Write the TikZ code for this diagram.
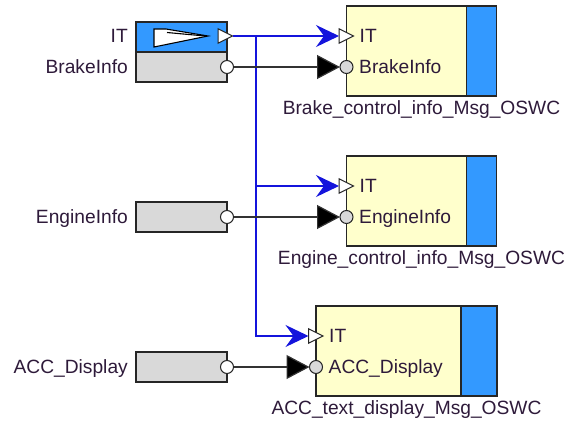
\documentclass[tikz,border=0pt]{standalone}
\usepackage{fontspec}
\setmainfont{Liberation Sans}
\usetikzlibrary{arrows.meta,positioning,calc,shapes.geometric}
\definecolor{swcfill}{HTML}{FFFFCC}
\definecolor{itblue}{HTML}{3399FF}
\definecolor{portgray}{HTML}{D9D9D9}
\definecolor{wireblue}{HTML}{1414DC}
\definecolor{txt}{HTML}{2E1A3A}
\tikzset{src/.style={draw=black!85,fill=portgray,anchor=north west,minimum width=91pt,minimum height=30pt,inner sep=0pt,outer sep=0pt,line width=1.3pt},
swc/.style={draw=black!85,fill=swcfill,anchor=north west,minimum height=90pt,inner sep=0pt,outer sep=0pt,line width=1.3pt},
stripe/.style={draw=black!85,fill=itblue,anchor=north east,minimum height=90pt,inner sep=0pt,outer sep=0pt,line width=1.3pt},
tport/.style={isosceles triangle,isosceles triangle stretches,minimum width=14.5pt,minimum height=14.5pt,inner sep=0pt,outer sep=0pt,draw=black!85,fill=white,line width=1pt,anchor=west},
cport/.style={circle,minimum size=13pt,inner sep=0pt,outer sep=0pt,draw=black!85,line width=1pt},
lab/.style={font=\fontsize{19.2}{21}\selectfont,text=txt,inner sep=0pt,text height=13.7pt,text depth=0pt},
itwire/.style={draw=wireblue,line width=1.3pt,-{Stealth[length=23pt,width=22pt,inset=8pt]}},
datwire/.style={draw=black!80,line width=1.2pt,-{Triangle[length=23pt,width=24pt,fill=black]}}}
\begin{document}
\begin{tikzpicture}[x=1pt,y=-1pt]
\useasboundingbox (0,0) rectangle (566,426);
% sender side
\node[src,fill=itblue] (srcit) at (136,22) {};
\node[src] (brake) at (136,52) {};
\node[src] (engine) at (136,202) {};
\node[src] (acc) at (136,352) {};
\draw[fill=white,line width=1.1pt] (154,29) -- (166,29) -- (208,36) -- (154,47) -- cycle;
\draw[line width=1.1pt] (167,32.5) -- (205,36);
\node[tport] (itout) at (218,36) {};
\node[cport,fill=white] (brakeout) at (brake.east) {};
\node[cport,fill=white] (engineout) at (engine.east) {};
\node[cport,fill=white] (accout) at (acc.east) {};
\node[lab,anchor=east] at (128,36) {IT};
\node[lab,left=8pt of brake] {BrakeInfo};
\node[lab,left=8pt of engine] {EngineInfo};
\node[lab,left=8pt of acc] {ACC\_Display};
% receiving SWCs
\node[swc,minimum width=150pt] (brakeswc) at (346.5,6) {};
\node[stripe,minimum width=30pt] at (brakeswc.north east) {};
\node[swc,minimum width=150pt] (engineswc) at (346.5,156) {};
\node[stripe,minimum width=30pt] at (engineswc.north east) {};
\node[swc,minimum width=181pt] (accswc) at (316,306) {};
\node[stripe,minimum width=36pt] at (accswc.north east) {};
\node[tport] (brakeit) at ([shift={(-7.5,30)}]brakeswc.north west) {};
\node[tport] (engineit) at ([shift={(-7.5,30)}]engineswc.north west) {};
\node[tport] (accit) at ([shift={(-7.5,30)}]accswc.north west) {};
\node[cport,fill=portgray] (brakein) at ([shift={(0,61)}]brakeswc.north west) {};
\node[cport,fill=portgray] (enginein) at ([shift={(0,61)}]engineswc.north west) {};
\node[cport,fill=portgray] (accin) at ([shift={(0,61)}]accswc.north west) {};
\node[lab,right=6pt of brakeit] {IT};
\node[lab,right=6pt of engineit] {IT};
\node[lab,right=6pt of accit] {IT};
\node[lab,right=6pt of brakein] {BrakeInfo};
\node[lab,right=6pt of enginein] {EngineInfo};
\node[lab,right=6pt of accin] {ACC\_Display};
\node[lab,below=4.5pt of brakeswc] {Brake\_control\_info\_Msg\_OSWC};
\node[lab,below=4.5pt of engineswc] {Engine\_control\_info\_Msg\_OSWC};
\node[lab,below=4.5pt of accswc] {ACC\_text\_display\_Msg\_OSWC};
% connections
\coordinate (tap) at (256,36);
\draw[itwire] (itout.east) -- (brakeit.west);
\draw[itwire] (tap) |- (engineit.west);
\draw[itwire] (tap) |- (accit.west);
\draw[datwire] (brakeout.east) -- (brakein.west);
\draw[datwire] (engineout.east) -- (enginein.west);
\draw[datwire] (accout.east) -- (accin.west);
\end{tikzpicture}
\end{document}
